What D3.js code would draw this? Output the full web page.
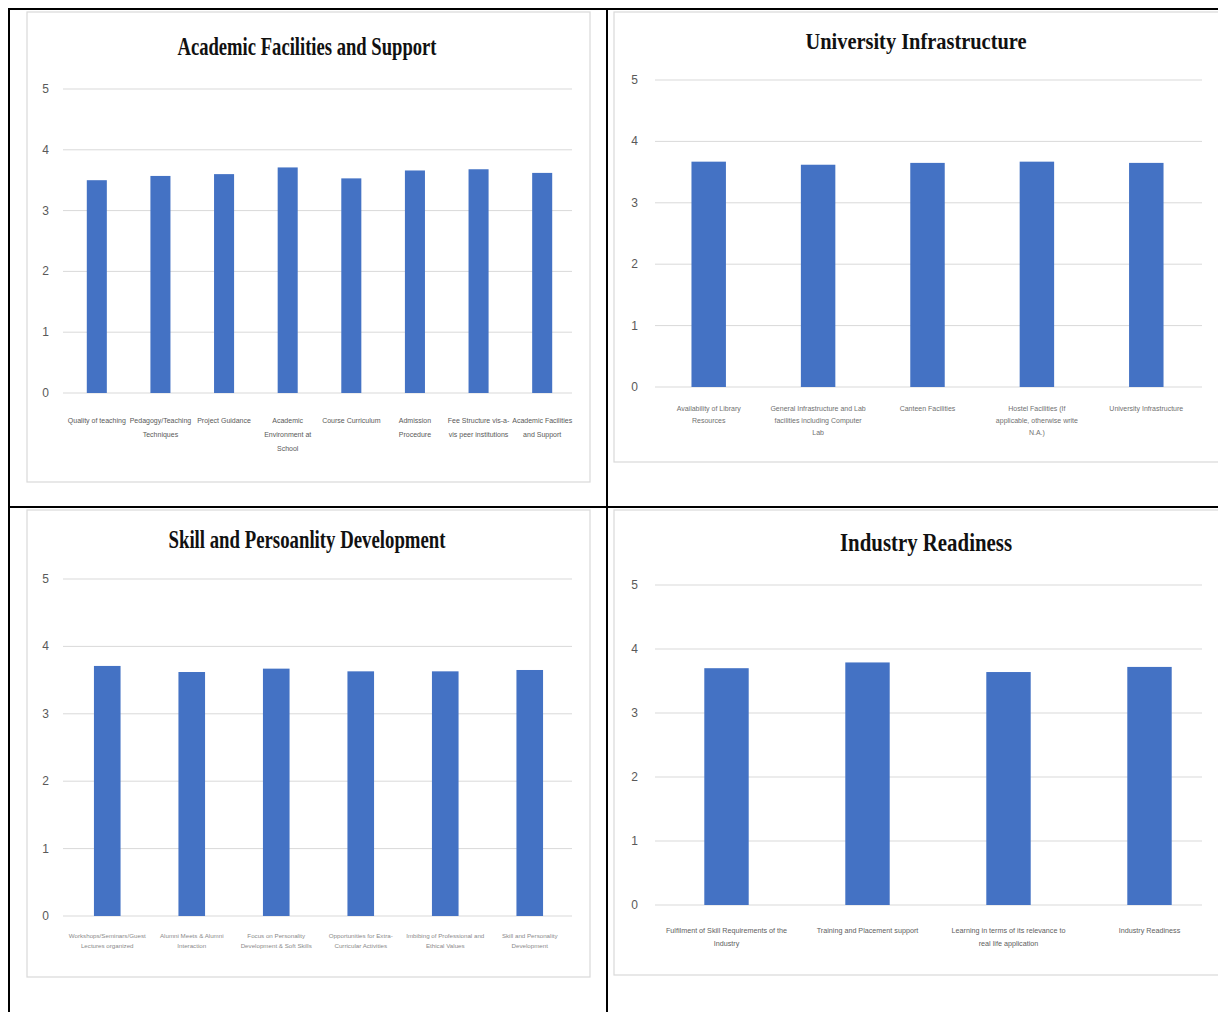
<!DOCTYPE html>
<html><head><meta charset="utf-8">
<script src="https://cdn.jsdelivr.net/npm/d3@7"></script>
<style>body{margin:0;background:#fff}svg{display:block}</style>
</head><body>
<script>
// ---- Data ----
const yTicks = [0, 1, 2, 3, 4, 5];

const titles = ["Academic Facilities and Support", "University Infrastructure",
  "Skill and Persoanlity Development", "Industry Readiness"];

const academicCategories = [
  ["Quality of teaching"], ["Pedagogy/Teaching", "Techniques"], ["Project Guidance"],
  ["Academic", "Environment at", "School"], ["Course Curriculum"], ["Admission", "Procedure"],
  ["Fee Structure vis-a-", "vis peer institutions"], ["Academic Facilities", "and Support"]];
const academicValues = [3.50, 3.57, 3.60, 3.71, 3.53, 3.66, 3.68, 3.62];

const infraCategories = [
  ["Availability of Library", "Resources"],
  ["General Infrastructure and Lab", "facilities including Computer", "Lab"],
  ["Canteen Facilities"],
  ["Hostel Facilities (If", "applicable, otherwise write", "N.A.)"],
  ["University Infrastructure"]];
const infraValues = [3.67, 3.62, 3.65, 3.67, 3.65];

const skillCategories = [
  ["Workshops/Seminars/Guest", "Lectures organized"], ["Alumni Meets & Alumni", "Interaction"],
  ["Focus on Personality", "Development & Soft Skills"], ["Opportunities for Extra-", "Curricular Activities"],
  ["Imbibing of Professional and", "Ethical Values"], ["Skill and Personality", "Development"]];
const skillValues = [3.71, 3.62, 3.67, 3.63, 3.63, 3.65];

const industryCategories = [
  ["Fulfilment of Skill Requirements of the", "Industry"], ["Training and Placement support"],
  ["Learning in terms of its relevance to", "real life application"], ["Industry Readiness"]];
const industryValues = [3.70, 3.79, 3.64, 3.72];

// ---- Layout ----
const W = 1218, H = 1012;
const svg = d3.select("body").append("svg").attr("width", W).attr("height", H);
svg.append("rect").attr("width", W).attr("height", H).attr("fill", "#fff");

const panels = [
  {cats: academicCategories, vals: academicValues, title: titles[0],
   box: [27, 12, 590, 482], gx: [63, 572], bx: [65, 574], gy: [393, 89], tickX: 49,
   tX: 307, tY: 55, tW: 259, tS: 25, lY: 423, lH: 14, lS: 7, lC: "#595959"},
  {cats: infraCategories, vals: infraValues, title: titles[1],
   box: [614, 12, 1224, 462], gx: [655, 1202], bx: [654, 1201], gy: [387, 80], tickX: 638,
   tX: 916, tY: 49, tW: 221, tS: 24, lY: 411, lH: 12, lS: 7, lC: "#707070"},
  {cats: skillCategories, vals: skillValues, title: titles[2],
   box: [27, 510, 590, 977], gx: [63, 572], bx: [65, 572], gy: [916, 579], tickX: 49,
   tX: 307, tY: 548, tW: 277, tS: 25, lY: 938, lH: 10, lS: 6.2, lC: "#8a8a8a"},
  {cats: industryCategories, vals: industryValues, title: titles[3],
   box: [614, 510, 1224, 975], gx: [655, 1202], bx: [656, 1220], gy: [905, 585], tickX: 638,
   tX: 926, tY: 551, tW: 172, tS: 25, lY: 933, lH: 13, lS: 7.2, lC: "#606060"}
];

panels.forEach(p => {
  const g = svg.append("g");
  g.append("rect").attr("x", p.box[0]).attr("y", p.box[1])
    .attr("width", p.box[2] - p.box[0]).attr("height", p.box[3] - p.box[1])
    .attr("fill", "#fff").attr("stroke", "#d9d9d9").attr("stroke-width", 1.2);

  const x = d3.scaleBand().domain(p.cats.map((c, i) => i)).range(p.bx)
    .paddingInner(0.685).paddingOuter(0.3425);
  const y = d3.scaleLinear().domain([0, 5]).range(p.gy);

  // gridlines
  g.selectAll("line.grid").data(yTicks).join("line")
    .attr("x1", p.gx[0]).attr("x2", p.gx[1])
    .attr("y1", d => y(d)).attr("y2", d => y(d))
    .attr("stroke", "#d9d9d9").attr("stroke-width", 1);

  // y tick labels
  g.selectAll("text.yt").data(yTicks).join("text")
    .attr("x", p.tickX).attr("y", d => y(d) + 4)
    .attr("text-anchor", "end").attr("font-family", "Liberation Sans, Arial, sans-serif")
    .attr("font-size", 12).attr("fill", "#595959").text(d => d);

  // bars
  g.selectAll("rect.bar").data(p.vals).join("rect")
    .attr("x", (d, i) => x(i)).attr("width", x.bandwidth())
    .attr("y", d => y(d)).attr("height", d => y(0) - y(d))
    .attr("fill", "#4472C4");

  // category labels
  p.cats.forEach((lines, i) => {
    const t = g.append("text").attr("text-anchor", "middle")
      .attr("font-family", "Liberation Sans, Arial, sans-serif")
      .attr("font-size", p.lS).attr("fill", p.lC);
    lines.forEach((ln, k) => {
      t.append("tspan").attr("x", x(i) + x.bandwidth() / 2)
        .attr("y", p.lY + k * p.lH).text(ln);
    });
  });

  // title
  g.append("text").attr("x", p.tX).attr("y", p.tY).attr("text-anchor", "middle")
    .attr("font-family", "Liberation Serif, Times New Roman, serif")
    .attr("font-weight", "bold").attr("font-size", p.tS).attr("fill", "#111")
    .attr("textLength", p.tW).attr("lengthAdjust", "spacingAndGlyphs")
    .text(p.title);
});

// outer table borders
const bl = [[8, 9, W, 9], [9, 8, 9, H], [607, 8, 607, H], [8, 507, W, 507]];
svg.selectAll("line.tb").data(bl).join("line")
  .attr("x1", d => d[0]).attr("y1", d => d[1]).attr("x2", d => d[2]).attr("y2", d => d[3])
  .attr("stroke", "#000").attr("stroke-width", 2);
</script>
</body></html>
